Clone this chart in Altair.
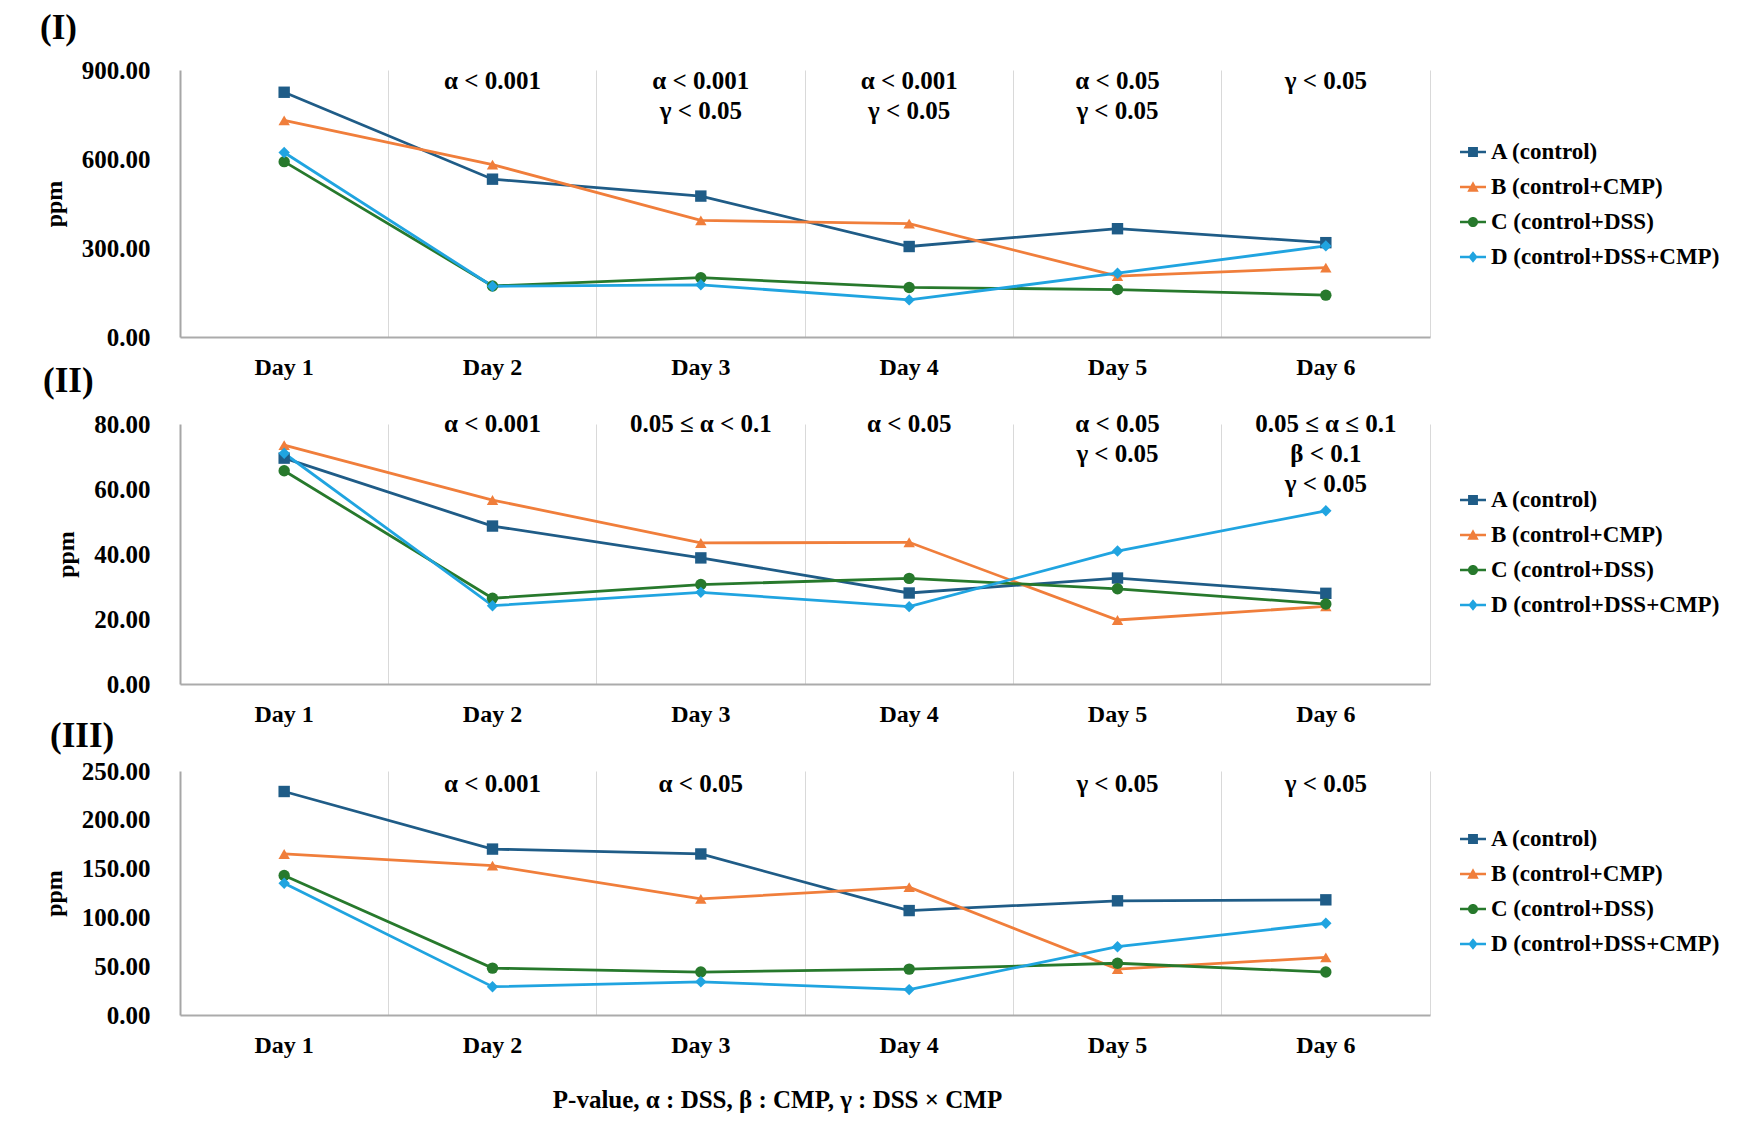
import altair as alt
import pandas as pd

FONT = "Liberation Serif"

days = ["Day 1", "Day 2", "Day 3", "Day 4", "Day 5", "Day 6"]
series = ["A (control)", "B (control+CMP)", "C (control+DSS)", "D (control+DSS+CMP)"]
colors = ["#1F5C87", "#F07E3B", "#27792C", "#20A4E0"]
marker_shapes = ["square", "triangle-up", "circle", "diamond"]
legend_paths = [
    "M-1,-0.1H1V0.1H-1Z M-0.38,-0.38H0.38V0.38H-0.38Z",
    "M-1,-0.1H1V0.1H-1Z M0,-0.44L0.44,0.36H-0.44Z",
    "M-1,-0.1H1V0.1H-1Z M-0.39,0A0.39,0.39 0 1,1 0.39,0A0.39,0.39 0 1,1 -0.39,0Z",
    "M-1,-0.1H1V0.1H-1Z M0,-0.44L0.36,0L0,0.44L-0.36,0Z",
]

# Panel (I)
p1_A = [825, 532, 475, 305, 365, 318]
p1_B = [730, 581, 393, 382, 205, 234]
p1_C = [591, 172, 200, 167, 160, 141]
p1_D = [622, 171, 176, 125, 215, 307]
p1_ticks = [0, 300, 600, 900]
p1_notes_days = ["Day 2", "Day 3", "Day 4", "Day 5", "Day 6"]
p1_notes = ["α < 0.001", "α < 0.001\nγ < 0.05", "α < 0.001\nγ < 0.05", "α < 0.05\nγ < 0.05", "γ < 0.05"]

# Panel (II)
p2_A = [69.5, 48.6, 38.8, 28.0, 32.6, 27.9]
p2_B = [73.5, 56.6, 43.4, 43.6, 19.7, 23.9]
p2_C = [65.6, 26.4, 30.6, 32.5, 29.3, 24.6]
p2_D = [71.0, 24.1, 28.2, 23.8, 40.9, 53.3]
p2_ticks = [0, 20, 40, 60, 80]
p2_notes_days = ["Day 2", "Day 3", "Day 4", "Day 5", "Day 6"]
p2_notes = ["α < 0.001", "0.05 ≤ α < 0.1", "α < 0.05", "α < 0.05\nγ < 0.05", "0.05 ≤ α ≤ 0.1\nβ < 0.1\nγ < 0.05"]

# Panel (III)
p3_A = [229, 170, 165, 107, 117, 118]
p3_B = [165, 153, 119, 131, 47, 59]
p3_C = [143, 48, 44, 47, 53, 44]
p3_D = [135, 29, 34, 26, 70, 94]
p3_ticks = [0, 50, 100, 150, 200, 250]
p3_notes_days = ["Day 2", "Day 3", "Day 5", "Day 6"]
p3_notes = ["α < 0.001", "α < 0.05", "γ < 0.05", "γ < 0.05"]

footer = "P-value, α : DSS, β : CMP, γ : DSS × CMP"

W = 1250


def make_panel(label, vals, ticks, note_days, notes, height, title_dx, title_offset,
               legend_y, note_dy, x_title=None):
    rows = []
    for s, vv in zip(series, vals):
        for d, v in zip(days, vv):
            rows.append({"series": s, "day": d, "value": v})
    df = pd.DataFrame(rows)
    ymax = ticks[-1]
    notes_df = pd.DataFrame({"day": note_days, "note": notes, "value": [ymax] * len(notes)})

    xaxis = alt.Axis(
        title=x_title, labelAngle=0, ticks=False, bandPosition=1, grid=True,
        gridColor="#D9D9D9", gridWidth=1,
        domainColor="#ABABAB", domainWidth=2,
        labelFont=FONT, labelFontSize=24, labelFontWeight="bold", labelColor="black",
        labelPadding=18,
        titleFont=FONT, titleFontSize=25, titleFontWeight="bold", titleColor="black",
        titlePadding=30, titleX=597, titleAlign="center",
    )
    x = alt.X("day:N", sort=days,
              scale=alt.Scale(type="band", domain=days, paddingInner=0, paddingOuter=0),
              axis=xaxis)
    yaxis = alt.Axis(
        values=ticks, format=".2f", title="ppm", grid=False,
        titleFont=FONT, titleFontSize=24, titleFontWeight="bold", titleColor="black",
        titlePadding=15,
        labelFont=FONT, labelFontSize=25, labelFontWeight="bold", labelColor="black",
        labelPadding=30, ticks=False,
        domainColor="#A6A6A6", domainWidth=2,
    )
    y = alt.Y("value:Q", scale=alt.Scale(domain=[0, ymax], nice=False, zero=True), axis=yaxis)

    base = alt.Chart(df)
    lines = base.mark_line(strokeWidth=2.8).encode(
        x=x, y=y,
        stroke=alt.Stroke("series:N", scale=alt.Scale(domain=series, range=colors), legend=None),
    )
    layers = [lines]
    for s, c, shp in zip(series, colors, marker_shapes):
        layers.append(
            base.transform_filter(alt.datum.series == s)
            .mark_point(filled=True, shape=shp, size=130, color=c, opacity=1)
            .encode(x=x, y=y)
        )
    leg = alt.Legend(
        title=None, orient="none", legendX=1280, legendY=legend_y,
        symbolSize=676, symbolStrokeWidth=0, symbolOpacity=1,
        labelFont=FONT, labelFontSize=23, labelFontWeight="bold", labelColor="black",
        labelLimit=500, rowPadding=10, labelOffset=5,
    )
    carrier = base.transform_filter("false").mark_point(filled=True, opacity=1).encode(
        x=x, y=y,
        color=alt.Color("series:N", scale=alt.Scale(domain=series, range=colors), legend=leg),
        shape=alt.Shape("series:N", scale=alt.Scale(domain=series, range=legend_paths), legend=leg),
    )
    layers.append(carrier)
    text = alt.Chart(notes_df).mark_text(
        font=FONT, fontSize=25, fontWeight="bold", color="black", baseline="top",
        lineBreak="\n", lineHeight=30, dy=note_dy,
    ).encode(x=x, y=y, text="note:N")
    layers.append(text)

    return alt.layer(*layers).properties(
        width=W, height=height,
        title=alt.TitleParams(label, anchor="start", frame="group", dx=title_dx,
                              offset=title_offset, font=FONT, fontSize=35,
                              fontWeight="bold", color="black"),
    )


panel1 = make_panel("(I)", [p1_A, p1_B, p1_C, p1_D], p1_ticks, p1_notes_days, p1_notes,
                    267, -140, 12, 69, -1)
panel2 = make_panel("(II)", [p2_A, p2_B, p2_C, p2_D], p2_ticks, p2_notes_days, p2_notes,
                    260, -137, 13, 63, -12)
panel3 = make_panel("(III)", [p3_A, p3_B, p3_C, p3_D], p3_ticks, p3_notes_days, p3_notes,
                    244, -130, 5, 55, 1, x_title=footer)

chart = (
    alt.vconcat(panel1, panel2, panel3, spacing=87, bounds="flush")
    .resolve_scale(color="independent", shape="independent", y="independent")
    .resolve_legend(color="independent", shape="independent")
    .properties(padding={"left": 32, "top": 3, "right": 5, "bottom": 5}, background="white")
    .configure_view(stroke=None)
)

chart.save("out.html", embed_options={"renderer": "svg", "actions": False})
